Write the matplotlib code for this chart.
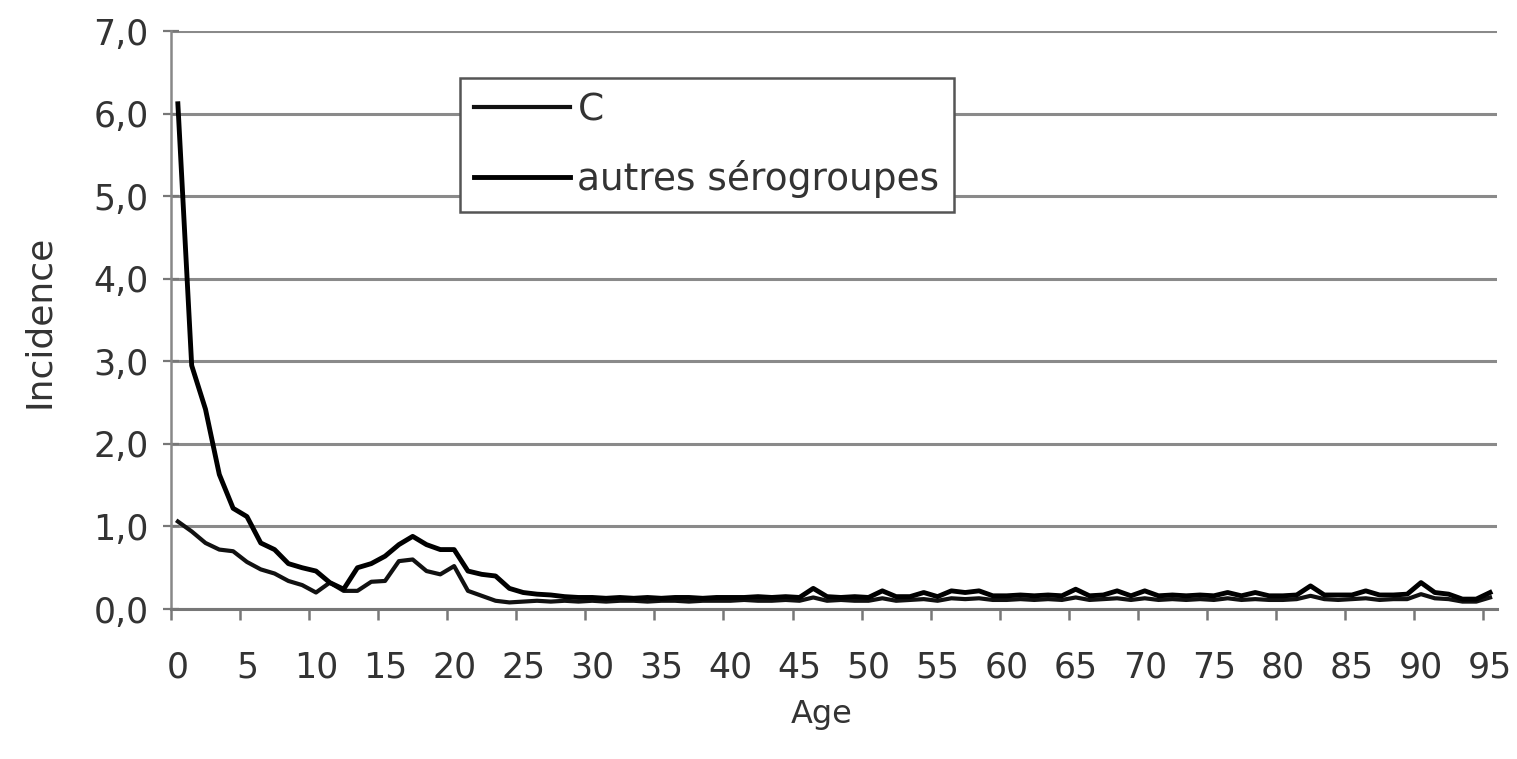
import numpy as np
import matplotlib.pyplot as plt

plt.rcParams['font.family'] = ['DejaVu Sans']

# Incidence par âge (0 à 95 ans)
ages = np.arange(96)

serogroupe_c = [
    1.06, 0.94, 0.80, 0.72, 0.70, 0.57, 0.48, 0.43, 0.34, 0.29,
    0.20, 0.32, 0.22, 0.22, 0.33, 0.34, 0.58, 0.60, 0.46, 0.42,
    0.52, 0.22, 0.16, 0.10, 0.08, 0.09, 0.10, 0.09, 0.10, 0.09,
    0.10, 0.09, 0.10, 0.10, 0.09, 0.10, 0.10, 0.09, 0.10, 0.10,
    0.10, 0.11, 0.10, 0.10, 0.11, 0.10, 0.14, 0.10, 0.11, 0.10,
    0.10, 0.13, 0.10, 0.11, 0.12, 0.10, 0.13, 0.12, 0.13, 0.11,
    0.11, 0.12, 0.11, 0.12, 0.11, 0.14, 0.11, 0.12, 0.13, 0.11,
    0.13, 0.11, 0.12, 0.11, 0.12, 0.11, 0.13, 0.11, 0.12, 0.11,
    0.11, 0.12, 0.16, 0.12, 0.11, 0.12, 0.13, 0.11, 0.12, 0.12,
    0.18, 0.13, 0.12, 0.09, 0.09, 0.14,
]

autres = [
    6.12, 2.95, 2.42, 1.63, 1.22, 1.12, 0.80, 0.72, 0.55, 0.50,
    0.46, 0.32, 0.24, 0.50, 0.55, 0.64, 0.78, 0.88, 0.78, 0.72,
    0.72, 0.46, 0.42, 0.40, 0.25, 0.20, 0.18, 0.17, 0.15, 0.14,
    0.14, 0.13, 0.14, 0.13, 0.14, 0.13, 0.14, 0.14, 0.13, 0.14,
    0.14, 0.14, 0.15, 0.14, 0.15, 0.14, 0.25, 0.15, 0.14, 0.15,
    0.14, 0.22, 0.15, 0.15, 0.20, 0.15, 0.22, 0.20, 0.22, 0.16,
    0.16, 0.17, 0.16, 0.17, 0.16, 0.24, 0.16, 0.17, 0.22, 0.16,
    0.22, 0.16, 0.17, 0.16, 0.17, 0.16, 0.20, 0.16, 0.20, 0.16,
    0.16, 0.17, 0.28, 0.17, 0.17, 0.17, 0.22, 0.17, 0.17, 0.18,
    0.32, 0.20, 0.18, 0.12, 0.12, 0.20,
]

fig = plt.figure(figsize=(15.17, 7.59), dpi=100)
ax = fig.add_axes([0.1127, 0.1976, 0.8741, 0.7614])

x = ages + 0.5
ax.plot(x, serogroupe_c, color='#111111', lw=3.0, label='C', zorder=3)
ax.plot(x, autres, color='black', lw=3.5, label='autres sérogroupes', zorder=4)

ax.set_xlim(0, 96)
ax.set_ylim(0, 7)

# graduations entre catégories, étiquettes au centre
ax.set_xticks(np.arange(0, 96, 5))
ax.set_xticks(np.arange(0, 96, 5) + 0.5, minor=True)
ax.set_xticklabels([])
ax.set_xticklabels([str(a) for a in range(0, 96, 5)], minor=True)
ax.tick_params(axis='x', which='major', length=8, width=1.8, color='#777777')
ax.tick_params(axis='x', which='minor', length=0, labelsize=25, pad=30,
               labelcolor='#333333')

yt = np.arange(0, 8)
ax.set_yticks(yt)
ax.set_yticklabels([f'{v:.1f}'.replace('.', ',') for v in yt])
ax.tick_params(axis='y', direction='inout', length=12, width=1.6,
               color='#777777', labelsize=25, pad=10, labelcolor='#333333')

ax.grid(axis='y', color='#8a8a8a', lw=2.2)
ax.set_axisbelow(True)

for s in ['top', 'right']:
    ax.spines[s].set_visible(False)
ax.spines['left'].set_color('#888888')
ax.spines['left'].set_linewidth(1.8)
ax.spines['bottom'].set_color('#777777')
ax.spines['bottom'].set_linewidth(2.2)

ax.set_xlabel('Age', fontsize=23, color='#333333')
ax.set_ylabel('Incidence', fontsize=26, color='#333333')
ax.xaxis.set_label_coords(0.491, -0.155)
ax.yaxis.set_label_coords(-0.087, 0.497)

leg = ax.legend(loc='upper left', bbox_to_anchor=(0.218, 0.919), fontsize=27,
                handlelength=2.55, handletextpad=0.2, labelspacing=0.85,
                borderpad=0.38, fancybox=False, framealpha=1,
                edgecolor='#555555', borderaxespad=0)
leg.get_frame().set_linewidth(1.8)
for t in leg.get_texts():
    t.set_color('#333333')

fig.savefig('out.png', dpi=100, facecolor='white')
